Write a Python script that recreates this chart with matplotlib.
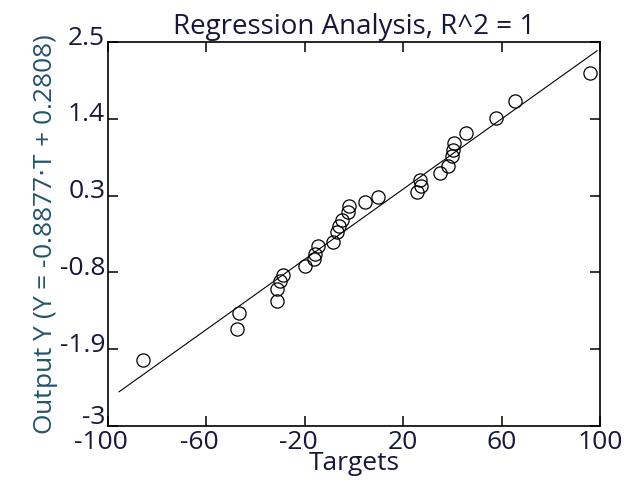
import matplotlib
matplotlib.use('Agg')
import matplotlib.pyplot as plt
import matplotlib.transforms as mtransforms
import numpy as np

targets = [95.7, 65.4, 57.6, 45.4, 40.4, 40.1, 39.7, 38.3, 34.7, 26.8,
           27.1, 25.7, 9.5, 4.5, -1.9, -2.3, -5.0, -6.0, -6.8, -8.4,
           -14.5, -15.9, -16.3, -19.9, -29.0, -30.1, -31.2, -31.2, -46.6, -47.7,
           -85.9]
outputs = [2.056, 1.659, 1.407, 1.196, 1.053, 0.957, 0.871, 0.728, 0.623, 0.527,
           0.441, 0.355, 0.284, 0.203, 0.155, 0.069, -0.046, -0.132, -0.218, -0.361,
           -0.427, -0.537, -0.609, -0.705, -0.838, -0.920, -1.039, -1.215, -1.387, -1.612,
           -2.052]

# fitted line as drawn
fit_slope = 0.02515
fit_icpt = -0.108
fit_x = [-95.5, 98.7]

xticks = [-100, -60, -20, 20, 60, 100]
yticks = [-3, -1.9, -0.8, 0.3, 1.4, 2.5]
ytick_labels = ['-3', '-1.9', '-0.8', '0.3', '1.4', '2.5']

plt.rcParams['font.family'] = ['Open Sans', 'DejaVu Sans']
txt = '#15183a'
fs = 19

fig = plt.figure(figsize=(6.24, 4.88), dpi=100)
ax = fig.add_axes([0.173, 0.127, 0.789, 0.787])

fx = np.array(fit_x)
ax.plot(fx, fit_slope * fx + fit_icpt, color='black', lw=0.8)
ax.plot(targets, outputs, 'o', mfc='none', mec='black', ms=9.5, mew=0.9)

ax.set_xlim(-100, 100)
ax.set_ylim(-3, 2.5)
ax.set_xticks(xticks)
ax.set_xticklabels([str(t) for t in xticks])
ax.set_yticks(yticks)
ax.set_yticklabels(ytick_labels)
ax.tick_params(direction='in', length=7, width=1.1, top=True, right=True,
               labelsize=fs, labelcolor=txt)
ax.tick_params(axis='x', pad=3)
ax.tick_params(axis='y', pad=2)
for s in ax.spines.values():
    s.set_linewidth(1.2)

# y labels sit a little above their ticks, like the original
for lab, t in zip(ax.get_yticklabels(), yticks):
    dy = 8 if t == -3 else 5
    up = mtransforms.ScaledTranslation(0, dy / 72, fig.dpi_scale_trans)
    lab.set_transform(lab.get_transform() + up)
left = mtransforms.ScaledTranslation(-5 / 72, 0, fig.dpi_scale_trans)
for lab, t in zip(ax.get_xticklabels(), xticks):
    if t < 0:
        lab.set_transform(lab.get_transform() + left)

ax.set_title('Regression Analysis, R^2 = 1', fontsize=20, color=txt, pad=6)
ax.set_xlabel('Targets', fontsize=fs, color=txt, labelpad=-3)
ax.set_ylabel('Output Y (Y = -0.8877$\\cdot$T + 0.2808)', fontsize=fs,
              color='#24536a', labelpad=0)

fig.savefig('out.png', dpi=100)
